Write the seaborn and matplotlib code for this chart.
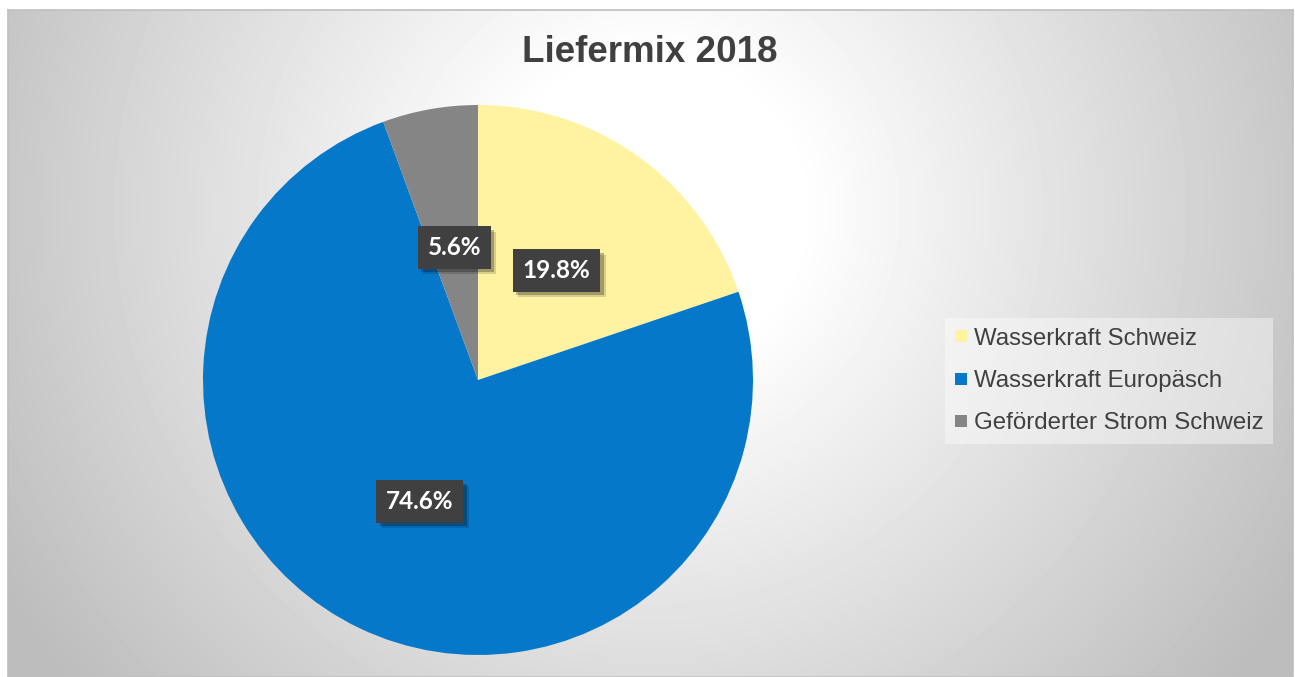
import numpy as np
import matplotlib
matplotlib.use("Agg")
import matplotlib.pyplot as plt
import matplotlib.patheffects as pe
from matplotlib.lines import Line2D
import seaborn as sns

# ---- data ----
title = "Liefermix 2018"
categories = ["Wasserkraft Schweiz", "Wasserkraft Europäsch", "Geförderter Strom Schweiz"]
shares = [19.8, 74.6, 5.6]
colors = ["#FFF2A1", "#0678CA", "#858585"]

sns.set_theme(style="white")
plt.rcParams["font.family"] = ["Liberation Sans", "DejaVu Sans"]

W, H = 1295, 677
fig = plt.figure(figsize=(W / 100, H / 100), dpi=100)
fig.patch.set_facecolor("white")

# ---- background with radial gradient ----
bx0, by0, bx1, by1 = 8, 10, 1293, 677
bg = fig.add_axes([bx0 / W, 1 - by1 / H, (bx1 - bx0) / W, (by1 - by0) / H])
yy, xx = np.mgrid[by0:by1, bx0:bx1]
d = np.hypot(xx - 650, yy - 210)
v = (255 - np.clip((d - 150) / 550.0, 0, 1.2) * 61) / 255.0
v = np.clip(v, 0.74, 1.0)
bg.imshow(v, cmap="gray", vmin=0, vmax=1, aspect="auto", interpolation="bilinear")
bg.set_xticks([]); bg.set_yticks([])
for s in bg.spines.values():
    s.set_visible(True); s.set_color("#bfbfbf"); s.set_linewidth(1.2)

# ---- pie ----
cx, cy, r = 478, 380, 275
ax = fig.add_axes([(cx - r) / W, (H - cy - r) / H, 2 * r / W, 2 * r / H])
ax.set_facecolor("none")
wedges, texts, autotexts = ax.pie(
    shares, colors=colors, startangle=90, counterclock=False,
    autopct="%.1f%%", pctdistance=0.49, radius=1.0,
    wedgeprops=dict(linewidth=0),
    textprops=dict(color="white", fontsize=17.5, fontweight="bold", family=["Lato", "DejaVu Sans"]),
)
ax.set_xlim(-1, 1); ax.set_ylim(-1, 1); ax.set_aspect("equal"); ax.axis("off")
for t in autotexts:
    t.set_bbox(dict(boxstyle="square,pad=0.4", facecolor="#404040", linewidth=0))
    t.get_bbox_patch().set_path_effects([
        pe.SimplePatchShadow(offset=(4, -4), shadow_rgbFace="black", alpha=0.15),
        pe.SimplePatchShadow(offset=(2.5, -2.5), shadow_rgbFace="black", alpha=0.25),
        pe.Normal()])

# ---- title ----
fig.text(650 / W, 1 - 52 / H, title, ha="center", va="center", fontsize=26.5,
         fontweight="bold", color="#404040")

# ---- legend ----
handles = [Line2D([], [], marker="s", linestyle="none", markersize=8.5,
                  markerfacecolor=c, markeredgewidth=0) for c in colors]
leg = fig.legend(handles, categories, loc="center left",
                 bbox_to_anchor=(945 / W, 1 - 381 / H), fontsize=17.3,
                 frameon=True, fancybox=False, borderaxespad=0, borderpad=0.4,
                 handlelength=0.5, handletextpad=0.3, labelspacing=0.85,
                 labelcolor="#404040")
fr = leg.get_frame()
fr.set_facecolor("white"); fr.set_alpha(0.4); fr.set_linewidth(0)

fig.savefig("out.png", dpi=100, facecolor="white")
